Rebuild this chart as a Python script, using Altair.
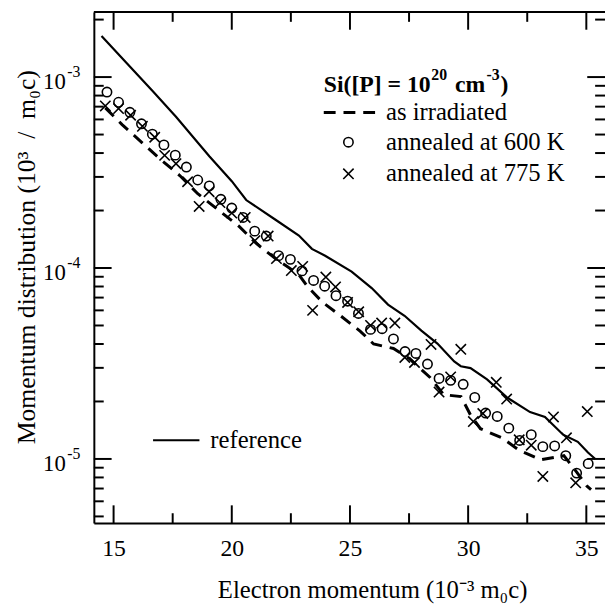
import altair as alt
import pandas as pd

# ---------------- data ----------------
x_ref = [14.49, 15.56, 16.67, 17.64, 19.05, 20.0, 20.61, 21.85, 22.84, 23.39, 23.95,
         25.07, 25.92, 26.61, 27.31, 28.02, 28.70, 29.41, 29.69, 30.10, 30.80, 31.64,
         32.62, 33.25, 34.02, 34.64, 35.07, 35.38]
y_ref = [1.64e-3, 1.18e-3, 8.4e-4, 6.2e-4, 3.85e-4, 2.85e-4, 2.27e-4, 1.79e-4, 1.48e-4,
         1.26e-4, 1.16e-4, 9.57e-5, 7.85e-5, 6.43e-5, 5.62e-5, 4.70e-5, 4.02e-5, 3.24e-5,
         3.06e-5, 2.99e-5, 2.61e-5, 2.10e-5, 1.76e-5, 1.66e-5, 1.34e-5, 1.23e-5, 1.08e-5,
         1.0e-5]

x_irr = [14.65, 15.36, 16.2, 16.97, 17.8, 18.56, 19.46, 20.29, 21.05, 21.89, 22.82, 23.2,
         23.85, 24.62, 25.44, 26.0, 26.84, 27.49, 28.39, 28.97, 29.7, 30.11, 30.52, 31.43,
         32.16, 33.07, 34.05, 34.6, 35.03, 35.2]
y_irr = [6.9e-4, 5.64e-4, 4.54e-4, 3.72e-4, 3.05e-4, 2.45e-4, 2.0e-4, 1.66e-4, 1.34e-4,
         1.11e-4, 9.3e-5, 8.0e-5, 6.6e-5, 5.6e-5, 4.66e-5, 4.0e-5, 3.79e-5, 3.37e-5,
         2.67e-5, 2.17e-5, 2.12e-5, 1.69e-5, 1.44e-5, 1.29e-5, 1.11e-5, 9.9e-6, 1.04e-5,
         8.5e-6, 7.2e-6, 6.9e-6]

x_600 = [14.72, 15.21, 15.69, 16.18, 16.64, 17.13, 17.61, 18.08, 18.56, 19.05, 19.54, 20.0,
         20.48, 20.97, 21.46, 21.98, 22.48, 22.97, 23.46, 23.93, 24.41, 24.90, 25.36, 25.87,
         26.36, 26.84, 27.33, 27.79, 28.28, 28.77, 29.26, 29.79, 30.28, 30.74, 31.23, 31.72,
         32.18, 32.67, 33.16, 33.66, 34.13, 34.59, 35.08]
y_600 = [8.35e-4, 7.38e-4, 6.54e-4, 5.69e-4, 5.02e-4, 4.41e-4, 3.90e-4, 3.38e-4, 2.89e-4,
         2.69e-4, 2.29e-4, 2.06e-4, 1.84e-4, 1.56e-4, 1.47e-4, 1.16e-4, 1.11e-4, 9.66e-5,
         8.61e-5, 8.03e-5, 7.16e-5, 6.70e-5, 5.78e-5, 4.77e-5, 4.81e-5, 4.25e-5, 3.65e-5,
         3.57e-5, 3.14e-5, 2.64e-5, 2.58e-5, 2.46e-5, 2.10e-5, 1.74e-5, 1.67e-5, 1.45e-5,
         1.25e-5, 1.34e-5, 1.16e-5, 1.17e-5, 1.04e-5, 8.43e-6, 9.45e-6]

x_775 = [14.65, 15.21, 15.72, 16.22, 16.74, 17.16, 17.64, 18.13, 18.62, 19.04, 19.5, 20.0,
         20.57, 20.98, 21.54, 21.89, 22.52, 23.0, 23.42, 23.98, 24.39, 24.9, 25.37, 25.87,
         26.34, 26.9, 27.32, 27.73, 28.43, 28.77, 29.26, 29.69, 30.22, 30.62, 31.19, 31.63,
         32.16, 32.67, 33.16, 33.61, 34.16, 34.55, 35.04]
y_775 = [7.06e-4, 6.84e-4, 6.31e-4, 5.52e-4, 4.84e-4, 3.89e-4, 3.52e-4, 2.83e-4, 2.1e-4,
         2.51e-4, 2.2e-4, 1.94e-4, 1.84e-4, 1.39e-4, 1.47e-4, 1.12e-4, 9.7e-5, 1.02e-4,
         6.0e-5, 8.97e-5, 7.96e-5, 6.6e-5, 5.9e-5, 5.0e-5, 5.15e-5, 5.15e-5, 3.4e-5, 3.2e-5,
         3.98e-5, 2.24e-5, 2.69e-5, 3.75e-5, 1.57e-5, 1.73e-5, 2.52e-5, 2.06e-5, 1.26e-5,
         1.18e-5, 8.1e-6, 1.66e-5, 1.29e-5, 7.5e-6, 1.77e-5]

x_major = [15, 20, 25, 30, 35]
x_minor = [17.5, 22.5, 27.5, 32.5]
y_major = [1e-5, 1e-4, 1e-3]
y_exponents = ["-5", "-4", "-3"]
y_minor = [5e-6, 6e-6, 7e-6, 8e-6, 9e-6,
           2e-5, 3e-5, 4e-5, 5e-5, 6e-5, 7e-5, 8e-5, 9e-5,
           2e-4, 3e-4, 4e-4, 5e-4, 6e-4, 7e-4, 8e-4, 9e-4, 2e-3]

# legend title pieces: normal-size text and superscripts
title_parts = ["Si([P] = 10", "20", "cm", "-3", ")"]
legend_labels = ["as irradiated", "annealed at 600 K", "annealed at 775 K"]
ref_label = ["reference"]

# ---------------- layout ----------------
W, H = 518, 518
FONT = "Liberation Serif"
MAJ, MIN = 18, 10
BLACK = "black"

xs = alt.Scale(domain=[14.165, 35.79], nice=False, zero=False)
ys = alt.Scale(type="log", domain=[4.613e-6, 2.193e-3], nice=False)

x_axis = alt.Axis(values=x_major, ticks=False, grid=False, domainColor=BLACK, domainWidth=2,
                  labelFont=FONT, labelFontSize=24, labelColor=BLACK, labelPadding=14,
                  format="d", title="Electron momentum (10⁻³ m₀c)", titleFont=FONT,
                  titleFontSize=25, titleFontWeight="normal", titleColor=BLACK,
                  titleX=282, titleY=75, titleAlign="center", titleBaseline="alphabetic")
y_axis = alt.Axis(values=y_major, ticks=False, grid=False, domainColor=BLACK, domainWidth=2,
                  labelFont=FONT, labelFontSize=23, labelColor=BLACK, labelPadding=29,
                  labelExpr="'10'", labelBaseline="middle", labelOffset=5,
                  title="Momentum distribution (10³\u2002/\u2002m₀c)", titleFont=FONT,
                  titleFontSize=26, titleFontWeight="normal", titleColor=BLACK, titleAngle=270,
                  titleX=-68, titleY=248, titleAlign="center", titleBaseline="middle")

X = alt.X("x:Q", scale=xs, axis=x_axis)
Y = alt.Y("y:Q", scale=ys, axis=y_axis)

df_ref = pd.DataFrame({"x": x_ref, "y": y_ref})
df_irr = pd.DataFrame({"x": x_irr, "y": y_irr})
df_600 = pd.DataFrame({"x": x_600, "y": y_600})
df_775 = pd.DataFrame({"x": x_775, "y": y_775})

ref_line = alt.Chart(df_ref).mark_line(color=BLACK, strokeWidth=2.2, clip=True).encode(x=X, y=Y)
irr_line = alt.Chart(df_irr).mark_line(color=BLACK, strokeWidth=3, strokeDash=[12, 8],
                                       clip=True).encode(x=X, y=Y)
pts_600 = alt.Chart(df_600).mark_point(shape="circle", filled=False, color=BLACK, size=90,
                                      strokeWidth=1.6, opacity=1, clip=True).encode(x=X, y=Y)
XPATH = "M-1,-1L1,1M1,-1L-1,1"
pts_775 = alt.Chart(df_775).mark_point(shape=XPATH, filled=False, color=BLACK, size=110,
                                      strokeWidth=1.6, opacity=1, clip=True).encode(x=X, y=Y)

# inward tick marks on all sides
def yticks(vals, length):
    d = pd.DataFrame({"y": vals})
    left = alt.Chart(d).mark_rule(color=BLACK, strokeWidth=2).encode(
        y=Y, x=alt.value(0), x2=alt.value(length))
    right = alt.Chart(d).mark_rule(color=BLACK, strokeWidth=2).encode(
        y=Y, x=alt.value(W - length), x2=alt.value(W))
    return [left, right]

def xticks(vals, length):
    d = pd.DataFrame({"x": vals})
    bottom = alt.Chart(d).mark_rule(color=BLACK, strokeWidth=2).encode(
        x=X, y=alt.value(H - length), y2=alt.value(H))
    top = alt.Chart(d).mark_rule(color=BLACK, strokeWidth=2).encode(
        x=X, y=alt.value(0), y2=alt.value(length))
    return [bottom, top]

top_frame = alt.Chart(pd.DataFrame({"k": [0]})).mark_rule(color=BLACK, strokeWidth=2).encode(
    x=alt.value(0), x2=alt.value(W), y=alt.value(0))

# superscript exponents of the y tick labels
sup_df = pd.DataFrame({"y": y_major, "e": y_exponents})
y_sup = alt.Chart(sup_df).mark_text(font=FONT, fontSize=16, align="left", baseline="middle",
                                    color=BLACK, dy=-5).encode(
    y=Y, x=alt.value(-27), text="e:N")

# manual legend
def text_at(txt, x, y, size=25, weight="normal"):
    return alt.Chart(pd.DataFrame({"t": [txt]})).mark_text(
        font=FONT, fontSize=size, fontWeight=weight, align="left", baseline="alphabetic",
        color=BLACK).encode(x=alt.value(x), y=alt.value(y), text="t:N")

leg = [
    text_at(title_parts[0], 233, 81, 24, "bold"),
    text_at(title_parts[1], 342, 69, 16, "bold"),
    text_at(title_parts[2], 366, 81, 24, "bold"),
    text_at(title_parts[3], 398, 69, 16, "bold"),
    text_at(title_parts[4], 412, 81, 24, "bold"),
    text_at(legend_labels[0], 296, 110),
    text_at(legend_labels[1], 296, 140),
    text_at(legend_labels[2], 296, 171),
    text_at(ref_label[0], 118, 442),
]
leg_dash = alt.Chart(pd.DataFrame({"k": [0]})).mark_rule(
    color=BLACK, strokeWidth=3, strokeDash=[12, 8]).encode(
    x=alt.value(233), x2=alt.value(285), y=alt.value(102))
leg_circ = alt.Chart(pd.DataFrame({"k": [0]})).mark_point(
    shape="circle", filled=False, color=BLACK, size=90, strokeWidth=1.6, opacity=1).encode(
    x=alt.value(258), y=alt.value(132))
leg_x = alt.Chart(pd.DataFrame({"k": [0]})).mark_point(
    shape=XPATH, filled=False, color=BLACK, size=110, strokeWidth=1.6, opacity=1).encode(
    x=alt.value(258), y=alt.value(164))
leg_ref_line = alt.Chart(pd.DataFrame({"k": [0]})).mark_rule(color=BLACK, strokeWidth=2.2).encode(
    x=alt.value(60), x2=alt.value(107), y=alt.value(434))

layers = [ref_line, irr_line, pts_600, pts_775]
layers += yticks(y_major, MAJ) + yticks(y_minor, MIN) + xticks(x_major, MAJ) + xticks(x_minor, MIN)
layers += [top_frame, y_sup] + leg + [leg_dash, leg_circ, leg_x, leg_ref_line]

chart = alt.layer(*layers).properties(
    width=W, height=H,
    autosize=alt.AutoSizeParams(type="none"),
    padding={"left": 87, "top": 0, "right": 0, "bottom": 80},
    background="white",
).configure_view(strokeWidth=0)

chart.save("out.html", embed_options={"renderer": "svg", "actions": False})
